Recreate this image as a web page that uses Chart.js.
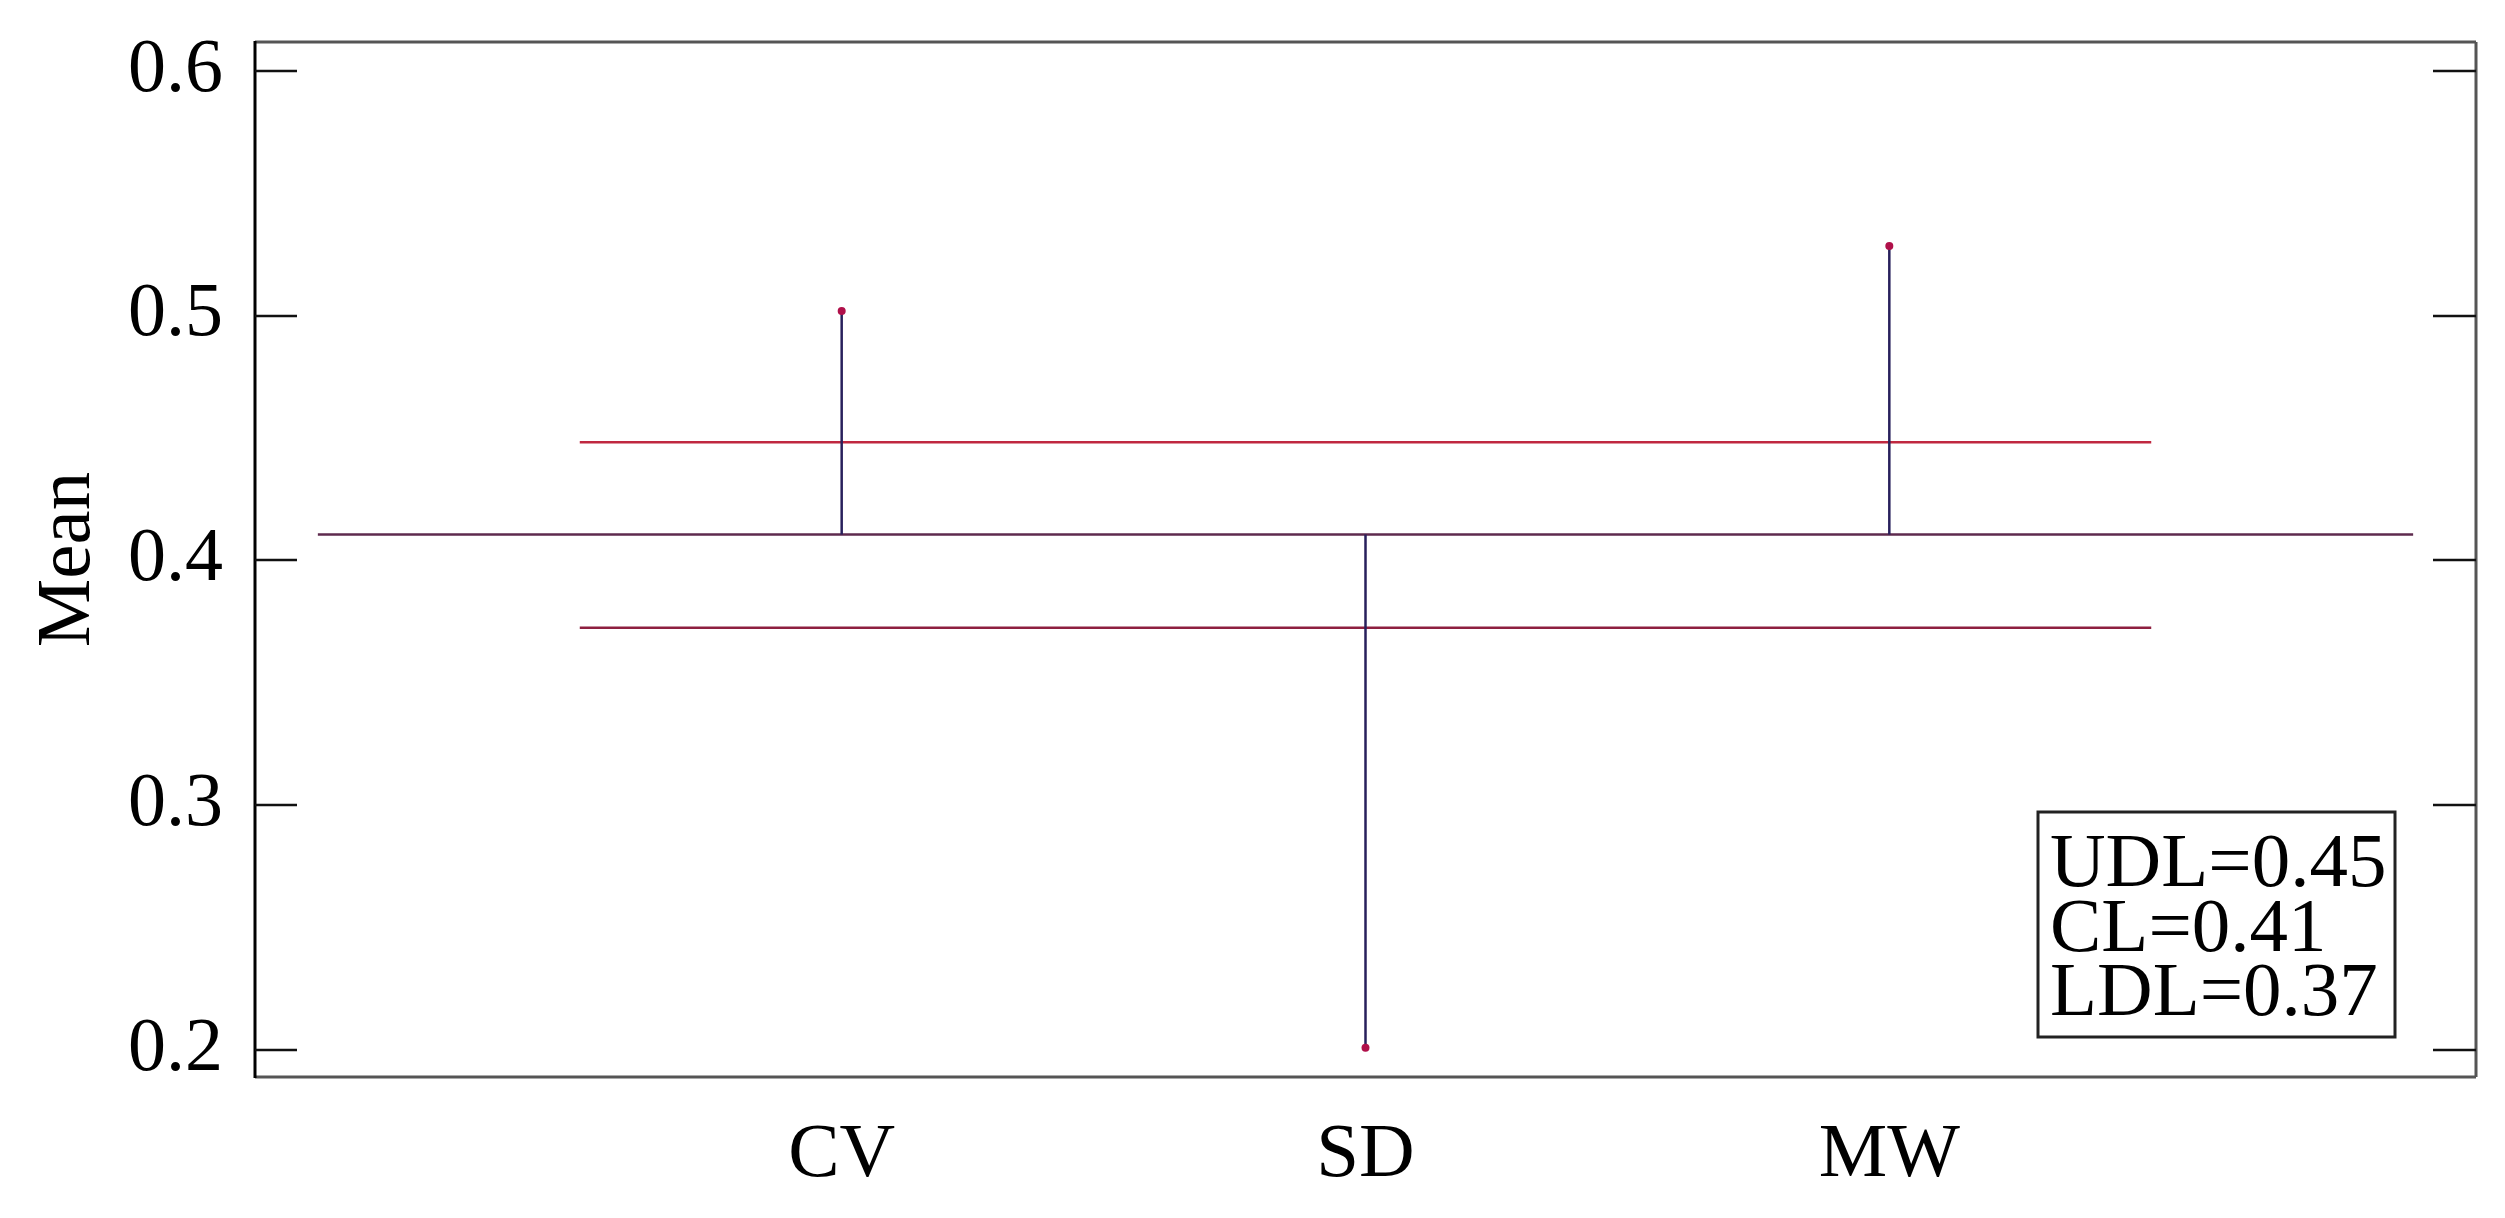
<!DOCTYPE html>
<html>
<head>
<meta charset="utf-8">
<script src="https://cdn.jsdelivr.net/npm/chart.js@4"></script>
<style>
  body { margin: 0; background: #fff; }
  canvas { display: block; }
</style>
</head>
<body>
<canvas id="chart" width="2505" height="1218"></canvas>
<script>
// data
const categories = ['CV', 'SD', 'MW'];
const catPositions = [1, 2, 3];
const means = [0.5018, 0.2009, 0.5284];

const cl = 0.4106;
const udl = 0.4482;
const ldl = 0.3725;
const clSpan = [0, 4];
const limitSpan = [0.5, 3.5];

const yTicks = [0.2, 0.3, 0.4, 0.5, 0.6];
const limitLabels = ['UDL', 'CL', 'LDL'];
const limitValues = [udl, cl, ldl];

const FONT = "'Liberation Serif', 'Times New Roman', serif";

// stems from the centre line to each mean, broken by null points
const stems = [];
catPositions.forEach((x, i) => {
    stems.push({ x: x, y: cl });
    stems.push({ x: x, y: means[i] });
    stems.push({ x: x, y: null });
});

const hline = (span, v) => span.map(x => ({ x: x, y: v }));

// frame, inward ticks and the limits box
const framePlugin = {
    id: 'frame',
    afterDraw(chart) {
        const { ctx, chartArea: a, scales } = chart;
        ctx.save();
        ctx.lineWidth = 3;
        ctx.strokeStyle = '#555';
        ctx.beginPath();
        ctx.moveTo(a.left, a.top); ctx.lineTo(a.right, a.top);
        ctx.moveTo(a.right, a.top); ctx.lineTo(a.right, a.bottom);
        ctx.moveTo(a.left, a.bottom); ctx.lineTo(a.right, a.bottom);
        ctx.stroke();
        ctx.strokeStyle = '#000';
        ctx.beginPath();
        ctx.moveTo(a.left, a.top - 1); ctx.lineTo(a.left, a.bottom + 1);
        ctx.stroke();

        ctx.lineWidth = 2.5;
        ctx.strokeStyle = '#111';
        yTicks.forEach(v => {
            const y = Math.round(scales.y.getPixelForValue(v));
            ctx.beginPath();
            ctx.moveTo(a.left, y); ctx.lineTo(a.left + 42, y);
            ctx.moveTo(a.right - 43, y); ctx.lineTo(a.right, y);
            ctx.stroke();
        });

        // limits box
        const bx = a.right - 438, by = a.bottom - 265, bw = 357, bh = 225;
        ctx.fillStyle = '#fff';
        ctx.fillRect(bx, by, bw, bh);
        ctx.lineWidth = 3;
        ctx.strokeStyle = '#222';
        ctx.strokeRect(bx, by, bw, bh);
        ctx.fillStyle = '#000';
        ctx.font = '77px ' + FONT;
        ctx.textAlign = 'left';
        ctx.textBaseline = 'alphabetic';
        limitLabels.forEach((lab, i) => {
            ctx.fillText(lab + '=' + limitValues[i].toFixed(2), bx + 12, by + 74 + i * 64.5);
        });
        ctx.restore();
    }
};

new Chart(document.getElementById('chart'), {
    type: 'scatter',
    data: {
        datasets: [
            {
                label: 'Mean',
                data: catPositions.map((x, i) => ({ x: x, y: means[i] })),
                pointStyle: 'circle',
                pointRadius: 4,
                backgroundColor: '#b0104a',
                borderColor: '#b0104a',
                borderWidth: 0,
                order: 0
            },
            {
                label: 'Stems',
                type: 'line',
                data: stems,
                borderColor: '#28205c',
                borderWidth: 2.5,
                pointRadius: 0,
                spanGaps: false,
                order: 1
            },
            {
                label: 'CL',
                type: 'line',
                data: hline(clSpan, cl),
                borderColor: '#5e2a4e',
                borderWidth: 2.5,
                pointRadius: 0,
                order: 2
            },
            {
                label: 'UDL',
                type: 'line',
                data: hline(limitSpan, udl),
                borderColor: '#c02840',
                borderWidth: 2.5,
                pointRadius: 0,
                order: 2
            },
            {
                label: 'LDL',
                type: 'line',
                data: hline(limitSpan, ldl),
                borderColor: '#8e2040',
                borderWidth: 2.5,
                pointRadius: 0,
                order: 2
            }
        ]
    },
    options: {
        responsive: false,
        animation: false,
        layout: { padding: { left: 0, top: 42, right: 29, bottom: 0 } },
        plugins: {
            legend: { display: false },
            tooltip: { enabled: false }
        },
        scales: {
            x: {
                type: 'linear',
                min: -0.12,
                max: 4.12,
                afterFit: s => { s.height = 141; s.paddingLeft = 0; s.paddingRight = 0; },
                afterBuildTicks: s => { s.ticks = catPositions.map(v => ({ value: v })); },
                grid: { display: false, drawTicks: false },
                border: { display: false },
                ticks: {
                    padding: 40,
                    color: '#000',
                    font: { family: FONT, size: 77, lineHeight: 1 },
                    callback: v => categories[catPositions.indexOf(v)]
                }
            },
            y: {
                min: 0.189,
                max: 0.6117,
                afterFit: s => { s.width = 255; s.paddingTop = 0; s.paddingBottom = 0; },
                afterBuildTicks: s => { s.ticks = yTicks.map(v => ({ value: v })); },
                grid: { display: false, drawTicks: false },
                border: { display: false },
                ticks: {
                    padding: 32,
                    color: '#000',
                    font: { family: FONT, size: 76, lineHeight: 1 },
                    callback: v => v.toFixed(1)
                },
                title: {
                    display: true,
                    text: 'Mean',
                    color: '#000',
                    padding: { top: 30, bottom: 0 },
                    font: { family: FONT, size: 77, lineHeight: 1 }
                }
            }
        }
    },
    plugins: [framePlugin]
});
</script>
</body>
</html>
